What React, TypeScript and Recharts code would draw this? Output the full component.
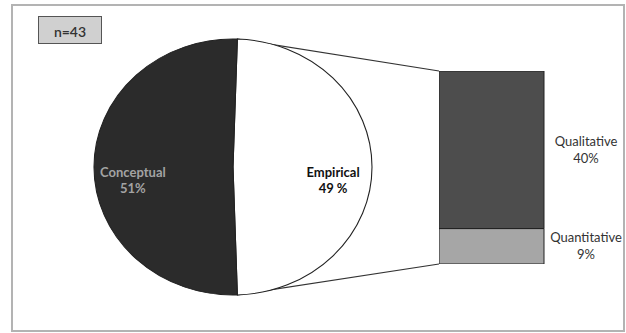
import React from "react";
import { PieChart, Pie, Cell, BarChart, Bar, XAxis, YAxis, LabelList } from "recharts";

const categories = ["Empirical", "Conceptual"];
const shares = [49, 51];
const shareLabels = ["49 %", "51%"];
const breakdownNames = ["Quantitative", "Qualitative"];
const breakdownValues = [9, 40];
const breakdownLabels = ["9%", "40%"];
const sampleLabel = "n=43";

const pieData = categories.map((name, i) => ({ name, value: shares[i], label: shareLabels[i] }));
const barRow: Record<string, any> = { name: categories[0] };
breakdownNames.forEach((n, i) => (barRow[n] = breakdownValues[i]));

const PIE_CX = 233;
const PIE_CY = 167;
const PIE_R = 128;
const SX = 1.086; // the pie is drawn a bit wider than tall
const BAR_LEFT = 439;
const BAR_TOP = 71;
const BAR_W = 105;
const BAR_H = 193;
const FONT = "Lato, 'Open Sans', sans-serif";
const RADIAN = Math.PI / 180;

const startAngle = (shares[0] / 100) * 180;

const PieLabel = (props: any) => {
  const { cx, cy, midAngle, outerRadius, index } = props;
  const x = cx + outerRadius * 0.72 * Math.cos(-midAngle * RADIAN);
  const y = cy + 10;
  const dark = index === 1;
  return (
    <text
      transform={`translate(${x} 0) scale(${1 / SX} 1) translate(${-x} 0)`}
      x={x}
      y={y}
      textAnchor="middle"
      fontFamily={FONT}
      fontWeight="bold"
      fontSize={13}
      fill={dark ? "#a3a3a3" : "#111"}
    >
      <tspan x={x} dy={0}>{pieData[index].name}</tspan>
      <tspan x={x} dy={16}>{pieData[index].label}</tspan>
    </text>
  );
};

const makeBarLabel = (i: number) => (props: any) => {
  const { x, y, width, height } = props;
  const tx = x + width + 42;
  const ty = y + height / 2;
  return (
    <text textAnchor="middle" fontFamily={FONT} fontSize={13} fill="#333">
      <tspan x={tx} y={ty - 4}>{breakdownNames[i]}</tspan>
      <tspan x={tx} y={ty + 13}>{breakdownLabels[i]}</tspan>
    </text>
  );
};

const barFills = ["#a6a6a6", "#4d4d4d"];

export default function App() {
  const topX = PIE_CX + PIE_R * SX * Math.cos(startAngle * RADIAN);
  const topY = PIE_CY - PIE_R * Math.sin(startAngle * RADIAN);
  const botY = PIE_CY + PIE_R * Math.sin(startAngle * RADIAN);

  return (
    <div style={{ position: "absolute", left: 0, top: 0, width: 626, height: 333, background: "#fff" }}>
      <div
        style={{
          position: "absolute",
          left: 11,
          top: 4,
          width: 614,
          height: 328,
          border: "2px solid #b3b3b3",
          boxSizing: "border-box",
        }}
      />
      <div
        style={{
          position: "absolute",
          left: 38,
          top: 16,
          width: 64,
          height: 28,
          boxSizing: "border-box",
          background: "#d0d0d0",
          border: "1px solid #555",
          fontFamily: FONT,
          fontSize: 14,
          fontWeight: 600,
          color: "#333",
          display: "flex",
          alignItems: "center",
          justifyContent: "center",
          paddingTop: 2,
        }}
      >
        {sampleLabel}
      </div>

      <svg style={{ position: "absolute", left: 0, top: 0 }} width={626} height={333}>
        <line x1={topX} y1={topY} x2={BAR_LEFT} y2={BAR_TOP} stroke="#333" strokeWidth={1.2} />
        <line x1={topX} y1={botY} x2={BAR_LEFT} y2={BAR_TOP + BAR_H} stroke="#333" strokeWidth={1.2} />
      </svg>

      <div
        style={{
          position: "absolute",
          left: 0,
          top: 0,
          transform: `scaleX(${SX})`,
          transformOrigin: `${PIE_CX}px 0px`,
        }}
      >
        <PieChart width={626} height={333} margin={{ top: 0, right: 0, bottom: 0, left: 0 }}>
          <Pie
            data={pieData}
            dataKey="value"
            nameKey="name"
            cx={PIE_CX}
            cy={PIE_CY}
            outerRadius={PIE_R}
            startAngle={startAngle}
            endAngle={startAngle - 360}
            stroke="#222"
            strokeWidth={1}
            label={PieLabel}
            labelLine={false}
            isAnimationActive={false}
          >
            <Cell fill="#ffffff" />
            <Cell fill="#2b2b2b" />
          </Pie>
        </PieChart>
      </div>

      <div style={{ position: "absolute", left: BAR_LEFT, top: BAR_TOP }}>
        <BarChart
          width={BAR_W + 82}
          height={BAR_H}
          data={[barRow]}
          margin={{ top: 0, right: 82, bottom: 0, left: 0 }}
          barCategoryGap={0}
          style={{ overflow: "visible" }}
        >
          <XAxis dataKey="name" hide />
          <YAxis hide domain={[0, breakdownValues.reduce((a, b) => a + b, 0)]} />
          {breakdownNames.map((n, i) => (
            <Bar
              key={n}
              dataKey={n}
              stackId="a"
              fill={barFills[i]}
              stroke="#222"
              strokeWidth={1}
              isAnimationActive={false}
            >
              <LabelList dataKey={n} content={makeBarLabel(i)} />
            </Bar>
          ))}
        </BarChart>
      </div>
    </div>
  );
}
